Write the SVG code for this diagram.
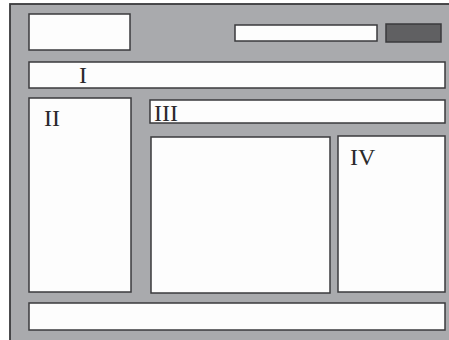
<svg xmlns="http://www.w3.org/2000/svg" width="449" height="340" viewBox="0 0 449 340">
<style>
.box{fill:#fdfdfd;stroke:#3a3a3c;stroke-width:1.5}
.lbl{font-family:"Liberation Serif",serif;font-size:24px;fill:#2a2a2a}
</style>
<rect x="0" y="0" width="449" height="340" fill="#ffffff"/>
<g id="frame"><rect x="10" y="4" width="445" height="345" fill="#a9aaad" stroke="#3a3a3c" stroke-width="1.8"/></g>
<g id="logo"><rect class="box" x="29" y="14" width="101" height="36"/></g>
<g id="search"><rect class="box" x="235" y="25" width="142" height="16"/></g>
<g id="button"><rect x="386" y="24" width="55" height="18" fill="#606062" stroke="#3a3a3c" stroke-width="1.5"/></g>
<g id="I"><rect class="box" x="29" y="62" width="416" height="26"/><text class="lbl" x="79" y="83">I</text></g>
<g id="II"><rect class="box" x="29" y="98" width="102" height="194"/><text class="lbl" x="44" y="126">II</text></g>
<g id="III"><rect class="box" x="150" y="100" width="295" height="23"/><text class="lbl" x="154" y="121">III</text></g>
<g id="main"><rect class="box" x="151" y="137" width="179" height="156"/></g>
<g id="IV"><rect class="box" x="338" y="136" width="107" height="156"/><text class="lbl" x="350" y="165">IV</text></g>
<g id="footer"><rect class="box" x="29" y="303" width="416" height="27"/></g>
<g id="connectors"/>
</svg>
